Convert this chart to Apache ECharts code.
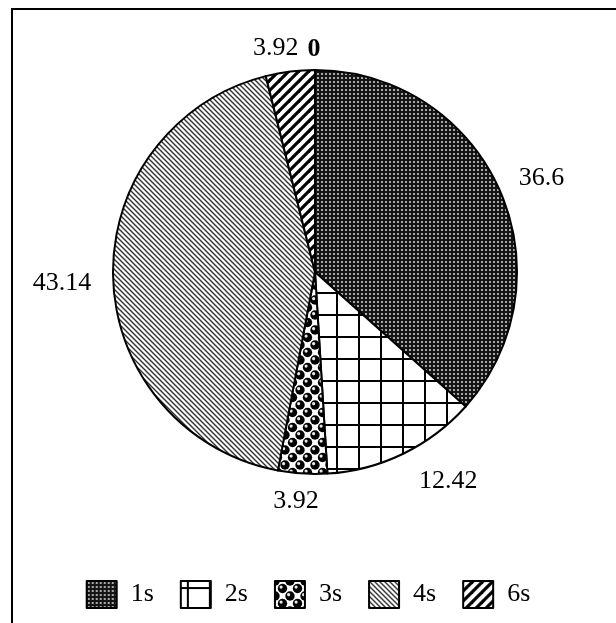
<!DOCTYPE html>
<html><head><meta charset="utf-8">
<script src="https://cdn.jsdelivr.net/npm/echarts@6/dist/echarts.min.js"></script>
<style>
html,body{margin:0;padding:0;background:#fff;}
#frame{position:absolute;left:11px;top:8px;width:700px;height:700px;border-top:2px solid #000;border-left:2px solid #000;}
#chart{position:absolute;left:0;top:0;width:616px;height:623px;}
</style></head><body>
<div id="frame"></div><div id="chart"></div>
<script>
// ---- data ----
const categories = ['1s', '2s', '3s', '4s', '6s', '5s'];
const values = [36.6, 12.42, 3.92, 43.14, 3.92, 0];
const legendItems = ['1s', '2s', '3s', '4s', '6s'];

// ---- layout / style ----
const CX = 315, CY = 272, R = 202;
const labelDist = [245, 248, 228, 253, 229, 226];
const labelShiftX = [3, 25, -5, 0, -11, -1];
const labelShiftY = [6, -14, 2, 3, 3, 3];
const FONT = 'Liberation Serif';

function tile(w, h, draw) {
  const c = document.createElement('canvas');
  c.width = w; c.height = h;
  const g = c.getContext('2d');
  draw(g, w, h);
  return { image: c, repeat: 'repeat' };
}
const patterns = [
  // 1s dense dots on dark
  tile(4, 4, (g) => { g.fillStyle = '#151515'; g.fillRect(0,0,4,4); g.fillStyle = '#a8a8a8'; g.fillRect(1,1,2,2); }),
  // 2s large grid
  tile(22, 22, (g) => { g.fillStyle = '#fff'; g.fillRect(0,0,22,22); g.fillStyle = '#000'; g.fillRect(6,0,2,22); g.fillRect(0,6,22,2); }),
  // 3s spheres
  tile(15, 15, (g) => {
    g.fillStyle = '#fff'; g.fillRect(0,0,15,15);
    const pts = [[7.5,7.5],[0,0],[15,0],[0,15],[15,15]];
    g.fillStyle = '#000';
    pts.forEach(p => { g.beginPath(); g.arc(p[0], p[1], 4.7, 0, Math.PI*2); g.fill(); });
    g.fillStyle = '#e8e8e8';
    pts.forEach(p => { g.beginPath(); g.arc(p[0]-1.4, p[1]-1.4, 1.6, 0, Math.PI*2); g.fill(); });
  }),
  // 4s narrow "\" stripes
  tile(5, 5, (g) => {
    g.fillStyle = '#fff'; g.fillRect(0,0,5,5);
    g.strokeStyle = '#333'; g.lineWidth = 1.4;
    [-5,0,5].forEach(c => { g.beginPath(); g.moveTo(-1, -1 + c); g.lineTo(6, 6 + c); g.stroke(); });
  }),
  // 6s wide "/" stripes
  tile(10, 10, (g) => {
    g.fillStyle = '#fff'; g.fillRect(0,0,10,10);
    g.strokeStyle = '#000'; g.lineWidth = 3.2;
    [0,10,20].forEach(c => { g.beginPath(); g.moveTo(-1, c + 1); g.lineTo(11, c - 11); g.stroke(); });
  }),
  // 5s (zero)
  tile(2, 2, (g) => { g.fillStyle = '#fff'; g.fillRect(0,0,2,2); })
];

const total = values.reduce((a, b) => a + b, 0);
const midAngles = [];
let acc = 0;
values.forEach(v => { midAngles.push((acc + v / 2) / total * Math.PI * 2); acc += v; });

const chart = echarts.init(document.getElementById('chart'));
chart.setOption({
  animation: false,
  backgroundColor: 'transparent',
  legend: {
    data: legendItems,
    left: 'center',
    top: 575,
    icon: 'rect',
    itemWidth: 30,
    itemHeight: 27,
    itemGap: 26,
    selectedMode: false,
    itemStyle: { borderColor: '#000', borderWidth: 2 },
    textStyle: { fontFamily: FONT, fontSize: 26, color: '#000', padding: [0, 0, 0, 9] }
  },
  series: [{
    type: 'pie',
    center: [CX, CY],
    radius: R,
    startAngle: 90,
    clockwise: true,
    avoidLabelOverlap: false,
    emphasis: { disabled: true },
    itemStyle: { borderColor: '#000', borderWidth: 2 },
    label: {
      show: true,
      position: 'outside',
      formatter: '{c}',
      fontFamily: FONT,
      fontSize: 26,
      color: '#000'
    },
    labelLine: { show: false },
    labelLayout: function (p) {
      const i = p.dataIndex;
      const a = midAngles[i];
      return {
        x: CX + Math.sin(a) * labelDist[i] + labelShiftX[i],
        y: CY - Math.cos(a) * labelDist[i] + labelShiftY[i],
        align: 'center',
        verticalAlign: 'middle'
      };
    },
    data: categories.map((name, i) => ({
      name: name,
      value: values[i],
      itemStyle: { color: patterns[i] },
      label: values[i] === 0 ? { fontWeight: 'bold' } : {}
    }))
  }]
});
</script>
</body></html>
